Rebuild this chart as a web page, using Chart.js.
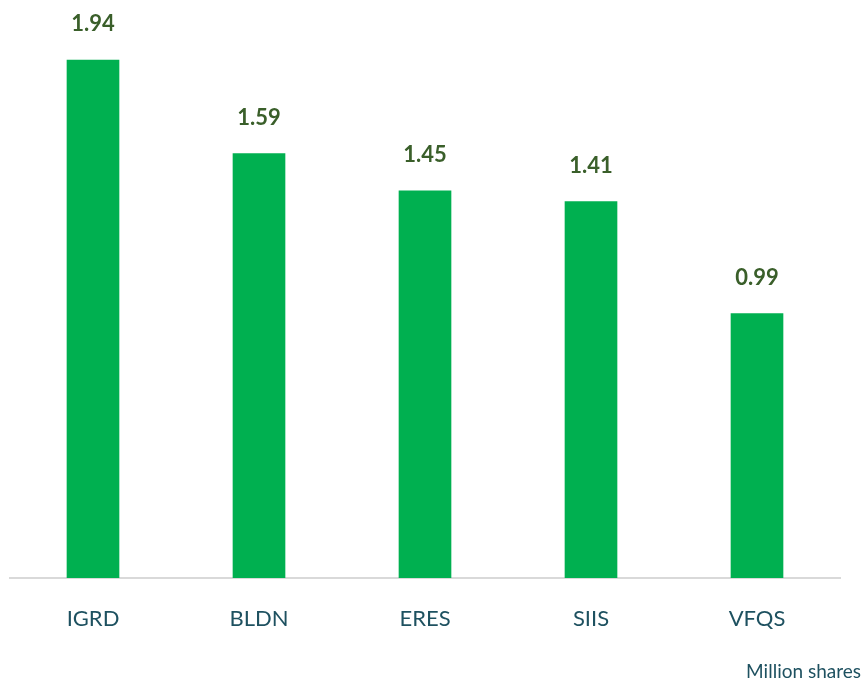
<!DOCTYPE html>
<html>
<head>
<meta charset="utf-8">
<script src="https://cdn.jsdelivr.net/npm/chart.js@4"></script>
<style>
html,body{margin:0;padding:0;background:#fff;}
#wrap{position:relative;width:865px;height:683px;}
</style>
</head>
<body>
<div id="wrap"><canvas id="c" width="865" height="683"></canvas></div>
<script>
const categories = ["IGRD", "BLDN", "ERES", "SIIS", "VFQS"];
const values = [1.94, 1.59, 1.45, 1.41, 0.99];
const unitLabel = "Million shares";

const valueLabels = {
  id: 'valueLabels',
  afterDatasetsDraw(chart) {
    const ctx = chart.ctx;
    const meta = chart.getDatasetMeta(0);
    ctx.save();
    ctx.font = 'bold 22px Lato';
    ctx.fillStyle = '#3a5f2a';
    ctx.textAlign = 'center';
    ctx.textBaseline = 'middle';
    meta.data.forEach((bar, i) => {
      ctx.fillText(values[i].toFixed(2), bar.x, bar.y - 36);
    });
    ctx.font = '19px Lato';
    ctx.fillStyle = '#1e5160';
    ctx.textAlign = 'right';
    ctx.fillText(unitLabel, 861, 672);
    ctx.restore();
  }
};

new Chart(document.getElementById('c'), {
  type: 'bar',
  data: {
    labels: categories,
    datasets: [{
      data: values,
      backgroundColor: '#00b050',
      barThickness: 52
    }]
  },
  options: {
    responsive: false,
    animation: false,
    layout: { padding: { left: 10, right: 25, top: 44, bottom: 0 } },
    plugins: { legend: { display: false }, tooltip: { enabled: false } },
    scales: {
      x: {
        grid: { display: false, drawTicks: false },
        border: { color: '#d9d9d9', width: 2 },
        ticks: { color: '#1e5160', font: { family: 'Lato', size: 22 }, padding: 28 },
        afterFit(scale) { scale.height = 105; }
      },
      y: {
        display: false,
        min: 0,
        max: 2.0
      }
    }
  },
  plugins: [valueLabels]
});
</script>
</body>
</html>
